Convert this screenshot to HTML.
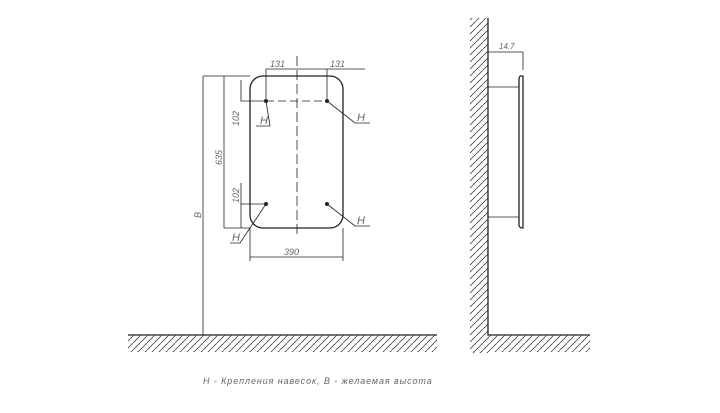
<!DOCTYPE html>
<html><head><style>body{margin:0;background:#fff}svg{display:block}text{font-family:"Liberation Sans",sans-serif;font-style:italic;fill:#666}</style></head><body>
<svg width="720" height="413" viewBox="0 0 720 413" xmlns="http://www.w3.org/2000/svg">
<defs>
<pattern id="h" width="7" height="7" patternUnits="userSpaceOnUse"><line x1="0" y1="7" x2="7" y2="0" stroke="#444" stroke-width="0.8"/></pattern>
</defs>
<g stroke="#222" fill="none" stroke-width="0.8">
<rect x="128" y="335" width="309" height="17" fill="url(#h)" stroke="none"/>
<line x1="128" y1="335" x2="437" y2="335" stroke-width="1.3"/>
<rect x="470" y="18" width="18" height="335" fill="url(#h)" stroke="none"/>
<rect x="488" y="335" width="102" height="17" fill="url(#h)" stroke="none"/>
<polyline points="488,18 488,335 590,335" stroke-width="1.3"/>
<path d="M521,76 Q519,76 519,80 L519,225 Q519,228 523,228 L523,76 Z" stroke-width="1.3"/>
<line x1="488" y1="87" x2="519" y2="87"/>
<line x1="488" y1="217" x2="519" y2="217"/>
<polyline points="488,52 523,52 523,70"/>
<rect x="250" y="76" width="93" height="152" rx="13" stroke-width="1.3"/>
<line x1="297" y1="56" x2="297" y2="234" stroke-dasharray="10,4"/>
<line x1="266" y1="101" x2="327" y2="101" stroke-dasharray="8,4"/>
<polyline points="266,101 266,69 365,69"/>
<line x1="327" y1="101" x2="327" y2="69"/>
<polyline points="203,76 250,76"/>
<polyline points="224,228 250,228"/>
<line x1="224" y1="76" x2="224" y2="228"/>
<line x1="203" y1="76" x2="203" y2="335"/>
<polyline points="241,80 241,101 266,101"/>
<polyline points="241,183 241,228"/>
<line x1="241" y1="204" x2="266" y2="204"/>
<line x1="250" y1="228" x2="250" y2="261"/>
<line x1="343" y1="228" x2="343" y2="261"/>
<line x1="250" y1="257" x2="343" y2="257"/>
<polyline points="266,101 270,126 256,126"/>
<polyline points="327,101 355,123 370,123"/>
<polyline points="266,204 240,243 230,243"/>
<polyline points="327,204 355,226 370,226"/>
</g>
<g fill="#222"><circle cx="266" cy="101" r="2"/><circle cx="327" cy="101" r="2"/><circle cx="266" cy="204" r="2"/><circle cx="327" cy="204" r="2"/></g>
<g font-size="9">
<text x="270" y="67">131</text><text x="330" y="67">131</text>
<text x="260" y="124" font-size="11">H</text>
<text x="357" y="121" font-size="11">H</text>
<text x="357" y="224" font-size="11">H</text>
<text x="232" y="241" font-size="11">H</text>
<text x="284" y="255">390</text>
<text transform="translate(222,165) rotate(-90)">635</text>
<text transform="translate(239,126) rotate(-90)">102</text>
<text transform="translate(239,203) rotate(-90)">102</text>
<text transform="translate(201,218) rotate(-90)">B</text>
<text x="499" y="49" font-size="8">14.7</text>
<text x="203" y="384" letter-spacing="0.9">H  -  Крепления навесок, B  -  желаемая высота</text>
</g>
</svg>
</body></html>
